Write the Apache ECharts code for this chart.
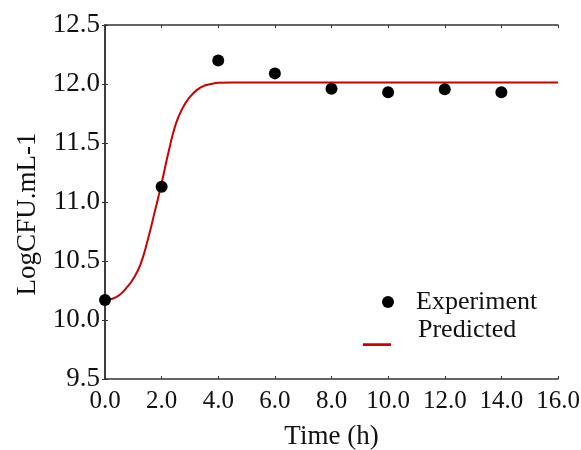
<!DOCTYPE html>
<html>
<head>
<meta charset="utf-8">
<script src="https://cdn.jsdelivr.net/npm/echarts@6/dist/echarts.min.js"></script>
<style>html,body{margin:0;padding:0;background:#fff;}#c{width:581px;height:450px;}</style>
</head>
<body>
<div id="c"></div>
<script>
// Experimental observations
const expTime = [0, 2, 4, 6, 8, 10, 12, 14];
const expValue = [10.17, 11.13, 12.20, 12.09, 11.96, 11.93, 11.955, 11.93];
// Predicted curve
const predTime = [0, 0.25, 0.5, 0.75, 1.0, 1.25, 1.5, 1.75, 2.0, 2.25, 2.5, 2.75, 3.0, 3.25, 3.5, 3.75, 4.0, 4.5, 5, 6, 8, 10, 12, 14, 16];
const predValue = [10.17, 10.18, 10.21, 10.27, 10.35, 10.47, 10.67, 10.91, 11.16, 11.43, 11.66, 11.80, 11.89, 11.95, 11.985, 12.0, 12.01, 12.013, 12.013, 12.013, 12.013, 12.013, 12.013, 12.013, 12.013];
const xTicks = { min: 0, max: 16, interval: 2 };
const yTicks = { min: 9.5, max: 12.5, interval: 0.5 };
const names = { x: 'Time (h)', y: 'LogCFU.mL-1', exp: 'Experiment', pred: 'Predicted' };

const font = 'Liberation Serif';
const axisLine = { show: true, lineStyle: { color: '#333', width: 1.5 } };
const tick = { show: true, inside: true, length: 3, lineStyle: { color: '#333', width: 1 } };

const chart = echarts.init(document.getElementById('c'), null, { renderer: 'canvas' });
chart.setOption({
  animation: false,
  backgroundColor: '#fff',
  grid: { left: 105, right: 23, top: 25, bottom: 71, containLabel: false, outerBoundsMode: 'none' },
  xAxis: [{
    type: 'value', position: 'bottom', min: xTicks.min, max: xTicks.max, interval: xTicks.interval,
    name: names.x, nameLocation: 'middle', nameGap: 44,
    nameTextStyle: { fontFamily: font, fontSize: 27, color: '#111' },
    axisLine: axisLine, axisTick: tick, splitLine: { show: false },
    axisLabel: { fontFamily: font, fontSize: 25, color: '#111', margin: 10, formatter: v => v.toFixed(1) }
  }, {
    type: 'value', position: 'top', min: xTicks.min, max: xTicks.max, interval: xTicks.interval,
    axisLine: axisLine, axisTick: tick, axisLabel: { show: false }, splitLine: { show: false }
  }],
  yAxis: [{
    type: 'value', position: 'left', min: yTicks.min, max: yTicks.max, interval: yTicks.interval,
    name: names.y, nameLocation: 'middle', nameGap: 61,
    nameTextStyle: { fontFamily: font, fontSize: 27, color: '#111', padding: [0, 24, 0, 0] },
    axisLine: axisLine, axisTick: tick, splitLine: { show: false },
    axisLabel: { fontFamily: font, fontSize: 27, color: '#111', margin: 5, padding: [4, 0, 0, 0], formatter: v => v.toFixed(1) }
  }, {
    type: 'value', position: 'right', min: yTicks.min, max: yTicks.max, interval: yTicks.interval,
    axisLine: axisLine, axisTick: tick, axisLabel: { show: false }, splitLine: { show: false }
  }],
  legend: [{
    data: [names.exp], left: 382, top: 289, padding: 0,
    itemWidth: 29, itemHeight: 12,
    icon: 'path://M0,6A6,6,0,1,1,12,6A6,6,0,1,1,0,6ZM29,0',
    textStyle: { fontFamily: font, fontSize: 26, color: '#111' }
  }, {
    data: [names.pred], left: 363, top: 314, padding: 0,
    itemWidth: 50, itemHeight: 32,
    icon: 'path://M0,0M0,29.2L28,29.2L28,32L0,32ZM50,0',
    textStyle: { fontFamily: font, fontSize: 26, color: '#111' }
  }],
  series: [{
    name: names.pred, type: 'line', smooth: 0.5, showSymbol: false, symbol: 'none',
    data: predTime.map((t, i) => [t, predValue[i]]),
    lineStyle: { color: '#cc0000', width: 2 }, itemStyle: { color: '#cc0000' }, z: 2
  }, {
    name: names.exp, type: 'scatter', symbol: 'circle', symbolSize: 12,
    data: expTime.map((t, i) => [t, expValue[i]]),
    itemStyle: { color: '#000', opacity: 1 }, z: 3
  }]
});
</script>
</body>
</html>
